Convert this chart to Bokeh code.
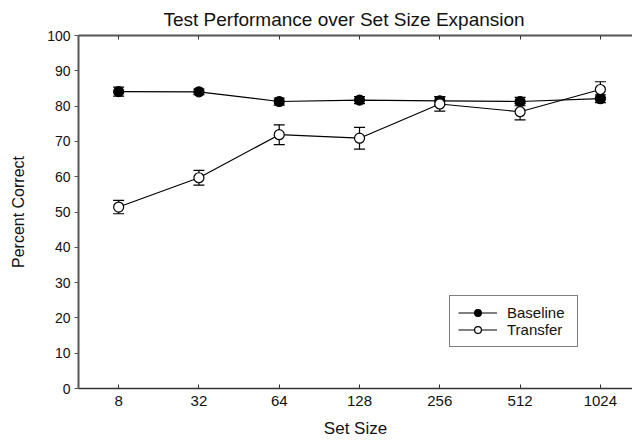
from bokeh.plotting import figure
from bokeh.models import (Range1d, LinearAxis, FixedTicker, Whisker, TeeHead,
                          ColumnDataSource, Legend, LegendItem)
from bokeh.embed import file_html
from bokeh.resources import INLINE

set_sizes = ["8", "32", "64", "128", "256", "512", "1024"]
baseline = [84.1, 84.05, 81.3, 81.7, 81.5, 81.3, 82.1]
baseline_err = [1.3, 0.8, 1.0, 1.0, 1.2, 1.2, 1.1]
transfer = [51.4, 59.7, 71.9, 70.9, 80.6, 78.4, 84.7]
transfer_err = [1.9, 2.1, 2.8, 3.1, 2.0, 2.3, 2.2]
y_ticks = [0, 10, 20, 30, 40, 50, 60, 70, 80, 90, 100]

FONT = "Liberation Sans"
xs = list(range(len(set_sizes)))

p = figure(width=632, height=441, output_backend="svg", toolbar_location=None,
           x_range=Range1d(-0.5, 6.4), y_range=Range1d(0, 100),
           min_border_left=78, min_border_right=0, min_border_bottom=53,
           min_border_top=35, x_axis_type=None, y_axis_type=None,
           title="Test Performance over Set Size Expansion")
p.outline_line_color = None
p.background_fill_color = "white"
p.border_fill_color = "white"
p.title.text_font = FONT
p.title.text_font_size = "19px"
p.title.text_font_style = "normal"
p.title.text_color = "#111111"
p.title.align = "left"
p.title.offset = 85
p.title.standoff = 11

AX = "#555555"

yax = LinearAxis(ticker=FixedTicker(ticks=y_ticks))
yax.axis_label = "Percent Correct"
yax.axis_label_text_font = FONT
yax.axis_label_text_font_size = "16px"
yax.axis_label_text_font_style = "normal"
yax.axis_label_text_color = "#111111"
yax.axis_label_standoff = 17
yax.major_label_text_font = FONT
yax.major_label_text_font_size = "14px"
yax.major_label_text_color = "#111111"
yax.major_label_standoff = 4
yax.major_tick_out = 4
yax.major_tick_in = 0
yax.minor_tick_out = 0
yax.minor_tick_in = 0
yax.axis_line_color = AX
yax.axis_line_width = 2
yax.major_tick_line_color = AX
p.add_layout(yax, "left")

xax = LinearAxis(ticker=FixedTicker(ticks=xs))
xax.major_label_overrides = {i: s for i, s in enumerate(set_sizes)}
xax.axis_label = "Set Size"
xax.axis_label_text_font = FONT
xax.axis_label_text_font_size = "17px"
xax.axis_label_text_font_style = "normal"
xax.axis_label_text_color = "#111111"
xax.axis_label_standoff = 10
xax.major_label_text_font = FONT
xax.major_label_text_font_size = "15px"
xax.major_label_text_color = "#111111"
xax.major_label_standoff = 7
xax.major_tick_in = 4
xax.major_tick_out = 0
xax.minor_tick_in = 0
xax.minor_tick_out = 0
xax.axis_line_color = "#333333"
xax.axis_line_width = 1.5
xax.major_tick_line_color = "#333333"
p.add_layout(xax, "below")

tax = LinearAxis(ticker=FixedTicker(ticks=xs))
tax.major_label_overrides = {i: "" for i in xs}
tax.major_label_standoff = 0
tax.major_tick_in = 4
tax.major_tick_out = 0
tax.minor_tick_in = 0
tax.minor_tick_out = 0
tax.axis_line_color = AX
tax.axis_line_width = 2
tax.major_tick_line_color = "#333333"
p.add_layout(tax, "above")

def add_series(vals, errs, fill):
    src = ColumnDataSource(dict(x=xs, y=vals,
                                lo=[v - e for v, e in zip(vals, errs)],
                                hi=[v + e for v, e in zip(vals, errs)]))
    w = Whisker(source=src, base="x", lower="lo", upper="hi",
                line_color="black", line_width=1.2,
                upper_head=TeeHead(size=11, line_color="black", line_width=1.2),
                lower_head=TeeHead(size=11, line_color="black", line_width=1.2))
    p.add_layout(w)
    ln = p.line("x", "y", source=src, line_color="black", line_width=1.2)
    sc = p.scatter("x", "y", source=src, size=10, fill_color=fill,
                   line_color="black", line_width=1.2)
    return ln, sc

b_ln, b_sc = add_series(baseline, baseline_err, "black")
t_ln, t_sc = add_series(transfer, transfer_err, "white")

legend = Legend(items=[LegendItem(label="Baseline", renderers=[b_ln, b_sc]),
                       LegendItem(label="Transfer", renderers=[t_ln, t_sc])],
                location=(371, 41))
legend.label_text_font = FONT
legend.label_text_font_size = "15px"
legend.label_text_color = "#111111"
legend.border_line_color = "black"
legend.border_line_width = 1
legend.padding = 8
legend.spacing = 0
legend.label_height = 17
legend.glyph_height = 17
legend.glyph_width = 39
legend.label_width = 62
legend.label_standoff = 10
legend.margin = 0
legend.background_fill_alpha = 1
p.add_layout(legend, "center")

open("out.html", "w").write(file_html(p, INLINE))
